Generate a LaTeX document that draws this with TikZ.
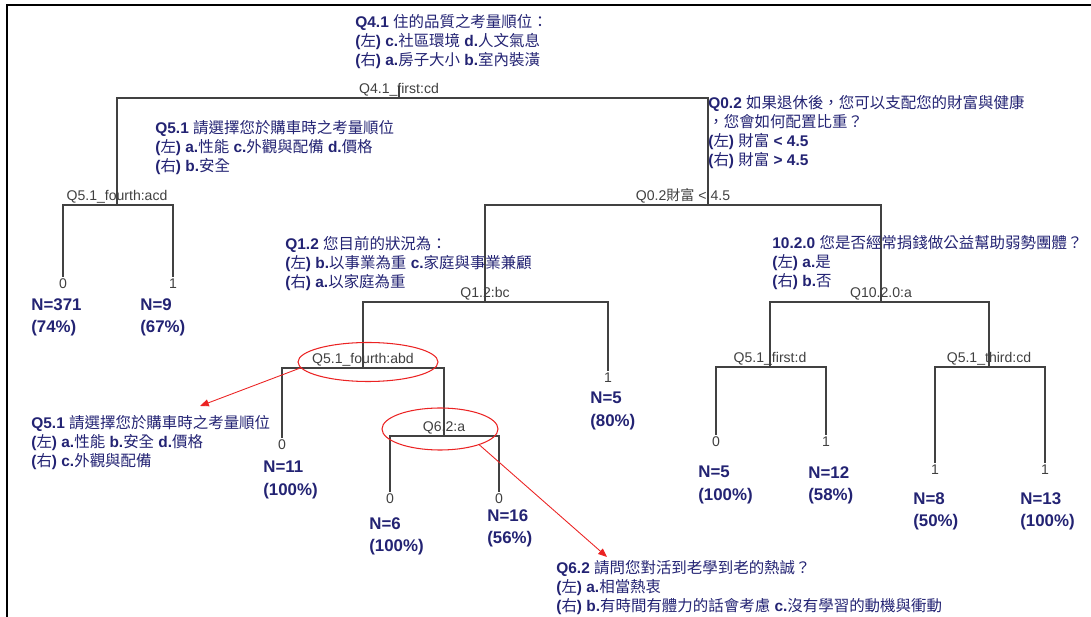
\documentclass[tikz,border=0pt]{standalone}
\usepackage{fontspec}
\setmainfont{Liberation Sans}
\newfontfamily\cjk{Noto Sans CJK TC}
\usetikzlibrary{shapes.geometric, arrows.meta, positioning}
\definecolor{navy}{RGB}{35,35,115}
\definecolor{branchgray}{RGB}{65,65,65}
\definecolor{markred}{RGB}{235,35,35}
\newcommand{\zh}[1]{{\cjk\mdseries #1}}

\begin{document}
\begin{tikzpicture}[x=0.02cm, y=-0.02cm,
    branch/.style={draw=branchgray, line width=0.7pt},
    split/.style={font=\fontsize{8}{9}\selectfont, text=black!75, inner sep=0pt, anchor=base, yshift=2.3pt},
    leafnum/.style={font=\fontsize{8}{9}\selectfont, text=black!75, inner sep=1pt, anchor=north},
    ncount/.style={font=\bfseries\fontsize{9.6}{13}\selectfont, text=navy, align=left, anchor=north west, inner sep=0pt},
    note/.style={font=\bfseries\fontsize{8.8}{10.8}\selectfont, text=navy, align=left, anchor=north west, inner sep=0pt},
    hilite/.style={ellipse, draw=markred, line width=0.6pt, inner sep=0pt},
    >={Triangle[length=5pt, width=4pt]}
]
    \useasboundingbox (0,0) rectangle (1091,617);
    % cadre
    \draw[line width=1.2pt] (7,617) -- (7,5) -- (1091,5);

    % points de l'arbre
    \coordinate (top) at (399,86);
    \coordinate (root) at (399,98);
    \coordinate (q51a) at (117,205);
    \coordinate (q02) at (708,205);
    \coordinate (q12) at (485,302);
    \coordinate (q51b) at (363,368);
    \coordinate (q62) at (444,436);
    \coordinate (q10) at (881,302);
    \coordinate (q51c) at (770,367);
    \coordinate (q51d) at (989,367);
    \coordinate (l1) at (63,277);
    \coordinate (l2) at (173,277);
    \coordinate (l3) at (282,438);
    \coordinate (l4) at (390,492);
    \coordinate (l5) at (499,492);
    \coordinate (l6) at (608,371);
    \coordinate (l7) at (716,435);
    \coordinate (l8) at (826,435);
    \coordinate (l9) at (935,463);
    \coordinate (l10) at (1045,463);

    % branches
    \draw[branch] (top) -- (root);
    \foreach \p/\c in {root/q51a, root/q02, q51a/l1, q51a/l2, q02/q12, q02/q10,
                       q12/q51b, q12/l6, q51b/l3, q51b/q62, q62/l4, q62/l5,
                       q10/q51c, q10/q51d, q51c/l7, q51c/l8, q51d/l9, q51d/l10}
        \draw[branch] (\p) -| (\c);

    % etiquettes des noeuds
    \node[split] (tq41) at (root) {Q4.1\_first:cd};
    \node[split] (tq51a) at (q51a) {Q5.1\_fourth:acd};
    \node[split, xshift=-0.5cm] (tq02) at (q02) {Q0.2\zh{財富} < 4.5};
    \node[split] (tq12) at (q12) {Q1.2:bc};
    \node[split] (tq51b) at (q51b) {Q5.1\_fourth:abd};
    \node[split] (tq62) at (q62) {Q6.2:a};
    \node[split] (tq10) at (q10) {Q10.2.0:a};
    \node[split] (tq51c) at (q51c) {Q5.1\_first:d};
    \node[split] (tq51d) at (q51d) {Q5.1\_third:cd};

    % feuilles
    \foreach \l/\v in {l1/0, l2/1, l3/0, l4/0, l5/0, l6/1, l7/0, l8/1, l9/1, l10/1}
        \node[leafnum] (d\l) at (\l) {\v};

    \node[ncount] (n1) at (31,298) {N=371\\(74\%)};
    \node[ncount] (n2) at (140,298) {N=9\\(67\%)};
    \node[ncount] (n3) at (263,461) {N=11\\(100\%)};
    \node[ncount] (n4) at (369,517) {N=6\\(100\%)};
    \node[ncount] (n5) at (487,509) {N=16\\(56\%)};
    \node[ncount] (n6) at (590,392) {N=5\\(80\%)};
    \node[ncount] (n7) at (698,466) {N=5\\(100\%)};
    \node[ncount] (n8) at (808,466) {N=12\\(58\%)};
    \node[ncount] (n9) at (913,492) {N=8\\(50\%)};
    \node[ncount] (n10) at (1020,492) {N=13\\(100\%)};

    % questions
    \node[note] (nq41) at (355,14) {Q4.1 \zh{住的品質之考量順位：}\\
        (\zh{左}) c.\zh{社區環境} d.\zh{人文氣息}\\
        (\zh{右}) a.\zh{房子大小} b.\zh{室內裝潢}};
    \node[note] (nq02) at (708,95) {Q0.2 \zh{如果退休後，您可以支配您的財富與健康}\\
        \zh{，您會如何配置比重？}\\
        (\zh{左}) \zh{財富} < 4.5\\
        (\zh{右}) \zh{財富} > 4.5};
    \node[note] (nq51a) at (155,120) {Q5.1 \zh{請選擇您於購車時之考量順位}\\
        (\zh{左}) a.\zh{性能} c.\zh{外觀與配備} d.\zh{價格}\\
        (\zh{右}) b.\zh{安全}};
    \node[note] (nq12) at (285,236) {Q1.2 \zh{您目前的狀況為：}\\
        (\zh{左}) b.\zh{以事業為重} c.\zh{家庭與事業兼顧}\\
        (\zh{右}) a.\zh{以家庭為重}};
    \node[note] (nq10) at (772,235) {10.2.0 \zh{您是否經常捐錢做公益幫助弱勢團體？}\\
        (\zh{左}) a.\zh{是}\\
        (\zh{右}) b.\zh{否}};
    \node[note] (nq51b) at (31,415) {Q5.1 \zh{請選擇您於購車時之考量順位}\\
        (\zh{左}) a.\zh{性能} b.\zh{安全} d.\zh{價格}\\
        (\zh{右}) c.\zh{外觀與配備}};
    \node[note] (nq62) at (556,560) {Q6.2 \zh{請問您對活到老學到老的熱誠？}\\
        (\zh{左}) a.\zh{相當熱衷}\\
        (\zh{右}) b.\zh{有時間有體力的話會考慮} c.\zh{沒有學習的動機與衝動}};

    % ellipses rouges et renvois
    \node[hilite, minimum width=2.8cm, minimum height=0.78cm] (e1) at (368,362) {};
    \node[hilite, minimum width=2.32cm, minimum height=0.84cm] (e2) at (440,429) {};
    \coordinate (tip1) at (200,406);
    \coordinate (tip2) at (607,557);
    \draw[->, markred, line width=0.5pt] (e1.185) -- (tip1);
    \draw[->, markred, line width=0.5pt] (e2.-22) -- (tip2);

\end{tikzpicture}
\end{document}
